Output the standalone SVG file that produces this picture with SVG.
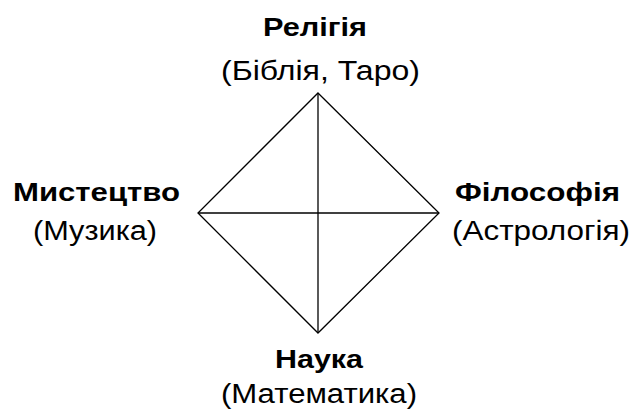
<svg xmlns="http://www.w3.org/2000/svg" width="633" height="410" viewBox="0 0 633 410">
<style>
.t{font-family:"Liberation Sans",Arial,sans-serif;font-size:27px;fill:#000;text-anchor:middle}
.b{font-weight:bold;font-size:25px}
.l{stroke:#000;stroke-width:1.3;fill:none}
</style>
<rect width="633" height="410" fill="#fff"/>
<g id="connectors">
<path class="l" d="M318 93 L439 213 L318 333 L198 213 Z"/>
<line class="l" x1="198" y1="213" x2="439" y2="213"/>
<line class="l" x1="318" y1="93" x2="318" y2="333"/>
</g>
<g id="religion">
<text class="t b" x="315" y="36" textLength="104" lengthAdjust="spacingAndGlyphs">Релігія</text>
<text class="t" x="320.5" y="80" textLength="199" lengthAdjust="spacingAndGlyphs">(Біблія, Таро)</text>
</g>
<g id="art">
<text class="t b" x="96.5" y="201" textLength="167" lengthAdjust="spacingAndGlyphs">Мистецтво</text>
<text class="t" x="95" y="240" textLength="124" lengthAdjust="spacingAndGlyphs">(Музика)</text>
</g>
<g id="philosophy">
<text class="t b" x="537.5" y="201" textLength="165" lengthAdjust="spacingAndGlyphs">Філософія</text>
<text class="t" x="541" y="240" textLength="178" lengthAdjust="spacingAndGlyphs">(Астрологія)</text>
</g>
<g id="science">
<text class="t b" x="319" y="368" textLength="88" lengthAdjust="spacingAndGlyphs">Наука</text>
<text class="t" x="319" y="403" textLength="196" lengthAdjust="spacingAndGlyphs">(Математика)</text>
</g>
</svg>
